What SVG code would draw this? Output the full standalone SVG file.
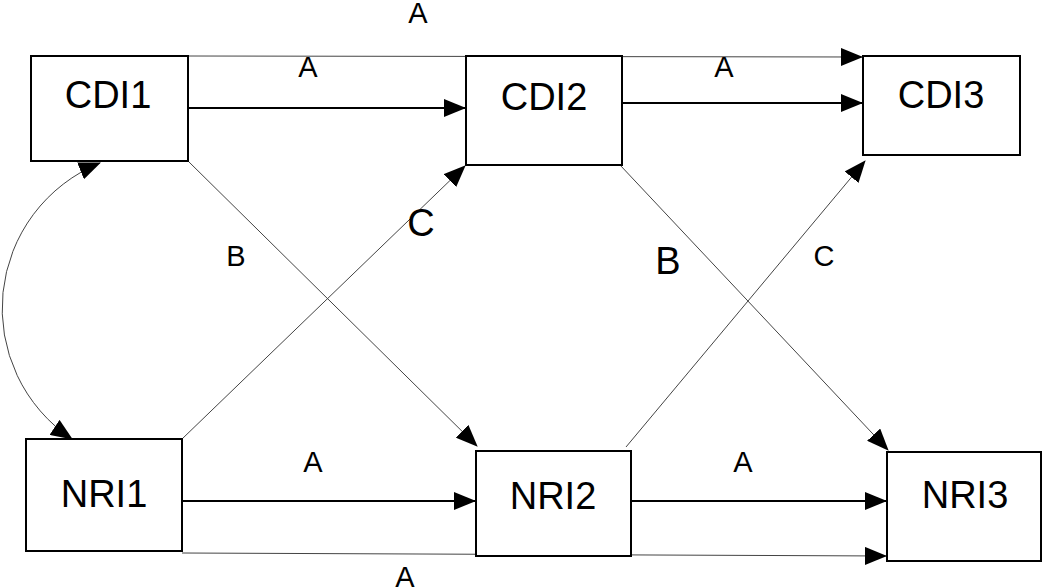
<svg xmlns="http://www.w3.org/2000/svg" width="1050" height="588" viewBox="0 0 1050 588">
<style>
.box{fill:#fff;stroke:#000;stroke-width:2}
.nt{font-family:"Liberation Sans",Arial,sans-serif;font-size:38px;text-anchor:middle;fill:#000}
.lb{font-family:"Liberation Sans",Arial,sans-serif;font-size:29px;text-anchor:middle;fill:#000}
.lbb{font-family:"Liberation Sans",Arial,sans-serif;font-size:38px;text-anchor:middle;fill:#000}
.thick{fill:none;stroke:#000;stroke-width:2;marker-end:url(#ah)}
.thin{fill:none;stroke:#444;stroke-width:1;marker-end:url(#ah)}
</style>
<defs>
<marker id="ah" markerUnits="userSpaceOnUse" markerWidth="22" markerHeight="18" refX="21" refY="9" orient="auto-start-reverse" viewBox="0 0 22 18">
<path d="M0,0 L22,9 L0,18 z" fill="#000"/>
</marker>
</defs>
<g id="connectors">
<path class="thick" d="M188,108 L465,108"/>
<path class="thin" d="M188,56 L862,57"/>
<path class="thick" d="M622,103 L862,103"/>
<path class="thin" d="M188,161 L477,446"/>
<path class="thin" d="M182,439 L465,166"/>
<path class="thin" d="M620,165 L888,450"/>
<path class="thin" d="M626,447 L865,161"/>
<path class="thick" d="M182,501 L475,501"/>
<path class="thick" d="M631,501 L886,501"/>
<path class="thin" d="M182,553 L886,556"/>
<path class="thin" style="marker-start:url(#ah)" d="M100,163 A157,157 0 0 0 72,439"/>
</g>
<g id="labels">
<text class="lb" x="418" y="23">A</text>
<text class="lb" x="308" y="77">A</text>
<text class="lb" x="724" y="77">A</text>
<text class="lb" x="236" y="266">B</text>
<text class="lbb" x="421" y="236">C</text>
<text class="lbb" x="668" y="274">B</text>
<text class="lb" x="824" y="266">C</text>
<text class="lb" x="313" y="472">A</text>
<text class="lb" x="743" y="472">A</text>
<text class="lb" x="405" y="587">A</text>
</g>
<g id="CDI1"><rect class="box" x="31" y="56" width="157" height="105"/><text class="nt" x="108" y="108">CDI1</text></g>
<g id="CDI2"><rect class="box" x="466" y="56" width="156" height="109"/><text class="nt" x="544" y="110">CDI2</text></g>
<g id="CDI3"><rect class="box" x="863" y="56" width="157" height="99"/><text class="nt" x="941" y="108">CDI3</text></g>
<g id="NRI1"><rect class="box" x="26" y="439" width="156" height="112"/><text class="nt" x="104" y="507">NRI1</text></g>
<g id="NRI2"><rect class="box" x="476" y="451" width="155" height="105"/><text class="nt" x="553" y="509">NRI2</text></g>
<g id="NRI3"><rect class="box" x="887" y="452" width="154" height="109"/><text class="nt" x="965" y="508">NRI3</text></g>
</svg>
